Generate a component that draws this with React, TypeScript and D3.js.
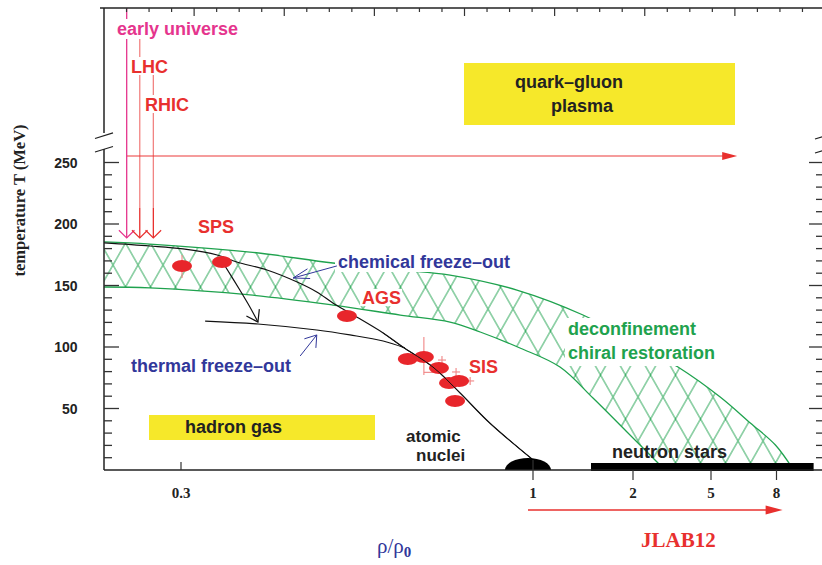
import React from 'react';
import * as d3 from 'd3';

// ---- axis definitions ----
const rhoTicks = [0.3, 1, 2, 5, 8];
const tempTicks = [50, 100, 150, 200, 250];
const tempMinor = d3.range(10, 250, 10).filter((t) => t % 50 !== 0);

// ---- cross-over band (deconfinement / chiral restoration), [rho/rho0, T MeV] ----
const bandUpper: [number, number][] = [
  [0.147, 185.4], [0.238, 183.7], [0.437, 177.2], [0.602, 168.3], [0.736, 162.6],
  [0.835, 158.5], [0.968, 146.3], [1.5, 126.0], [1.97, 105.7], [3.73, 83.7],
  [5.42, 59.3], [6.8, 38.2], [7.95, 20.3], [8.78, 0],
];
const bandLower: [number, number][] = [
  [0.147, 148.8], [0.238, 148.0], [0.437, 142.3], [0.602, 134.1], [0.736, 126.0],
  [0.835, 120.3], [0.895, 112.2], [0.974, 99.2], [1.27, 83.7], [1.6, 58.5],
  [1.94, 30.9], [3.23, 0],
];

// ---- freeze-out curves ----
const chemFreezeOut: [number, number][] = [
  [0.147, 184.6], [0.238, 182.1], [0.304, 179.7], [0.372, 174.8], [0.411, 169.1],
  [0.471, 162.6], [0.531, 152.8], [0.57, 144.7], [0.602, 135.8], [0.636, 127.6],
  [0.702, 111.4], [0.741, 100.0], [0.801, 83.7], [0.855, 62.6], [0.914, 38.2],
  [0.998, 8.9],
];
const thermFreezeOut: [number, number][] = [
  [0.348, 121.1], [0.453, 118.7], [0.57, 113.8], [0.636, 109.8], [0.702, 104.9],
  [0.745, 99.3],
];
const spsToThermal: [number, number][] = [
  [0.3875, 165.9], [0.417, 146.3], [0.437, 132.5], [0.453, 120.3],
];

// ---- measured freeze-out points ----
const spsPoints: [number, number][] = [[0.302, 165.9], [0.3815, 169.1]];
const agsPoints: [number, number][] = [[0.63, 125.2]];
const sisPoints: [number, number][] = [
  [0.751, 90.2], [0.783, 91.9], [0.813, 82.9], [0.833, 70.7], [0.853, 72.4], [0.845, 56.1],
];
// [rho, T low, T high]
const errV: [number, number, number][] = [
  [0.302, 156.1, 174.8], [0.783, 77.2, 108.1], [0.819, 86.1, 92.7],
  [0.847, 76.4, 83.0], [0.875, 69.1, 75.6],
];
// [T, rho low, rho high]
const errH: [number, number, number][] = [
  [79.4, 0.783, 0.813], [89.4, 0.811, 0.827], [79.7, 0.839, 0.855], [72.4, 0.867, 0.883],
];

// ---- accelerator / regime arrows ----
const beamArrows = [
  { name: 'early universe', rho: 0.192, tTop: 375.6, tEnd: 188.6 },
  { name: 'LHC', rho: 0.218, tTop: 351.2, tEnd: 188.6 },
  { name: 'RHIC', rho: 0.245, tTop: 321.1, tEnd: 188.6 },
];
const qgpArrow = { rho0: 0.192, rho1: 6.2, T: 255.3 };
const jlabArrow = { rho0: 0.99, rho1: 8.28 };
const nucleiRho = 0.99;
const neutronStarRange = [1.58, 9.7];

// ---- layout ----
const W = 822;
const H = 565;
const L = 104;
const R = 823;
const TOP = 8;
const B = 470;

const x = d3.scaleLinear().domain(rhoTicks).range([181, 533, 633, 711, 776.5]);
const y = d3.scaleLinear().domain([0, 250]).range([B, 162.5]);
const topAxis = d3.scaleLinear().domain([0, 8]).range([L, 825]);

const sans = "'Liberation Sans', Arial, Helvetica, sans-serif";
const serif = "'Liberation Serif', 'Times New Roman', Times, serif";

const C = {
  green: '#1fa24e',
  navy: '#31379a',
  red: '#e8302e',
  magenta: '#e5358d',
  salmon: '#f27b7b',
  dark: '#222222',
  yellow: '#f6e82a',
  dot: '#e8262b',
  axis: '#333333',
};

const px = (p: [number, number]): [number, number] => [x(p[0]), y(p[1])];
const smooth = d3.line<[number, number]>().x((d) => x(d[0])).y((d) => y(d[1])).curve(d3.curveCatmullRom.alpha(0.5));

function openHead(tip: [number, number], from: [number, number], len: number, ang: number) {
  const a = Math.atan2(tip[1] - from[1], tip[0] - from[0]);
  const p1 = [tip[0] - len * Math.cos(a - ang), tip[1] - len * Math.sin(a - ang)];
  const p2 = [tip[0] - len * Math.cos(a + ang), tip[1] - len * Math.sin(a + ang)];
  return `M${p1[0]},${p1[1]}L${tip[0]},${tip[1]}L${p2[0]},${p2[1]}`;
}
function solidHead(tip: [number, number], dirX: number, len: number, half: number) {
  return `M${tip[0]},${tip[1]}L${tip[0] - dirX * len},${tip[1] - half}L${tip[0] - dirX * len},${tip[1] + half}Z`;
}

export default function App() {
  const bandPath =
    smooth(bandUpper)! +
    'L' + px(bandLower[bandLower.length - 1]).join(',') +
    smooth(bandLower.slice().reverse())!.replace(/^M/, 'L') +
    'Z';

  const sps = px(spsToThermal[spsToThermal.length - 1]);
  const spsPrev = px(spsToThermal[spsToThermal.length - 2]);

  const chemTail: [number, number] = [x(0.61), y(165.9)];
  const chemTip: [number, number] = [x(0.523), y(156.1)];
  const thermTail: [number, number] = [x(0.537), y(92.7)];
  const thermTip: [number, number] = [x(0.57), y(109.8)];

  const labelStyle = { fontFamily: sans, fontWeight: 700, fontSize: 18 } as const;

  return (
    <svg width={W} height={H} style={{ position: 'absolute', left: 0, top: 0, background: '#fff' }}>
      <defs>
        <pattern id="xhatch" patternUnits="userSpaceOnUse" x={100.5} y={243} width={25} height={44}>
          <path
            d="M-25,-44L50,88M0,-44L50,44M-25,0L25,88M50,-44L-25,88M25,-44L-25,44M50,0L0,88"
            stroke={C.green}
            strokeWidth={1}
            fill="none"
          />
        </pattern>
        <clipPath id="plot">
          <rect x={L} y={TOP} width={R - L} height={B - TOP} />
        </clipPath>
      </defs>

      {/* labelled regions */}
      <rect x={464} y={63} width={271} height={62} fill={C.yellow} />
      <rect x={149} y={415} width={226} height={25} fill={C.yellow} />

      {/* cross-over band */}
      <g clipPath="url(#plot)">
        <path d={bandPath} fill="url(#xhatch)" stroke="none" />
        <path d={smooth(bandUpper)!} fill="none" stroke={C.green} strokeWidth={1.3} />
        <path d={smooth(bandLower)!} fill="none" stroke={C.green} strokeWidth={1.3} />
      </g>

      {/* text backgrounds over the band and arrows */}
      <rect x={565} y={318} width={156} height={48} fill="#fff" />
      <rect x={335} y={252} width={180} height={20} fill="#fff" />
      <rect x={360} y={289} width={42} height={17} fill="#fff" />

      {/* QGP arrow */}
      <line x1={x(qgpArrow.rho0)} x2={x(qgpArrow.rho1) - 12} y1={y(qgpArrow.T)} y2={y(qgpArrow.T)} stroke={C.salmon} strokeWidth={1.6} />
      <path d={solidHead([x(qgpArrow.rho1), y(qgpArrow.T)], 1, 15, 4)} fill={C.red} />

      {/* beam arrows */}
      {beamArrows.map((a, i) => {
        const cx = x(a.rho);
        const col = i === 0 ? C.magenta : C.red;
        const tip: [number, number] = [cx, y(a.tEnd)];
        return (
          <g key={a.name}>
            <line x1={cx} x2={cx} y1={y(a.tTop)} y2={y(a.tEnd) - 30} stroke={col} strokeOpacity={i === 0 ? 1 : 0.6} strokeWidth={1.3} />
            <line x1={cx} x2={cx} y1={y(a.tEnd) - 30} y2={y(a.tEnd)} stroke={col} strokeWidth={1.3} />
            <path d={openHead(tip, [cx, tip[1] - 10], 11, Math.PI / 4)} stroke={col} strokeWidth={1.2} fill="none" />
          </g>
        );
      })}
      <rect x={115} y={19} width={126} height={20} fill="#fff" />
      <rect x={130} y={57} width={40} height={18} fill="#fff" />
      <rect x={144} y={95} width={46} height={18} fill="#fff" />

      {/* freeze-out curves */}
      <path d={smooth(chemFreezeOut)!} fill="none" stroke="#111" strokeWidth={1.2} />
      <path d={smooth(thermFreezeOut)!} fill="none" stroke="#111" strokeWidth={1.2} />
      <path d={smooth(spsToThermal)!} fill="none" stroke="#111" strokeWidth={1.2} />
      <path d={openHead(sps, spsPrev, 13, 0.6)} fill="none" stroke="#111" strokeWidth={1.2} />

      {/* pointer arrows */}
      <line x1={chemTail[0]} y1={chemTail[1]} x2={chemTip[0]} y2={chemTip[1]} stroke={C.navy} strokeWidth={1} />
      <path d={openHead(chemTip, chemTail, 17, 0.3)} fill="none" stroke={C.navy} strokeWidth={1} />
      <line x1={thermTail[0]} y1={thermTail[1]} x2={thermTip[0]} y2={thermTip[1]} stroke={C.navy} strokeWidth={1} />
      <path d={openHead(thermTip, thermTail, 13, 0.6)} fill="none" stroke={C.navy} strokeWidth={1} />

      {/* data points */}
      <g stroke="#f08585" strokeWidth={1.1}>
        {errV.map((e, i) => (
          <line key={'v' + i} x1={x(e[0])} x2={x(e[0])} y1={y(e[1])} y2={y(e[2])} />
        ))}
        {errH.map((e, i) => (
          <line key={'h' + i} x1={x(e[1])} x2={x(e[2])} y1={y(e[0])} y2={y(e[0])} />
        ))}
      </g>
      {[...spsPoints, ...agsPoints, ...sisPoints].map((p, i) => (
        <ellipse key={i} cx={x(p[0])} cy={y(p[1])} rx={10} ry={6} fill={C.dot} />
      ))}
      {/* curve drawn again on top of the SIS points */}
      <path d={smooth(chemFreezeOut.slice(10))!} fill="none" stroke="#111" strokeWidth={1} />

      {/* nuclei and neutron stars */}
      <path
        d={`M${x(nucleiRho) - 23},${B}A23,12 0 0 1 ${x(nucleiRho) + 23},${B}Z`}
        fill="#000"
      />
      <rect x={x(neutronStarRange[0])} y={B - 7} width={x(neutronStarRange[1]) - x(neutronStarRange[0])} height={8} fill="#000" />

      {/* frame */}
      <g stroke="#222" strokeWidth={1.5} fill="none">
        <line x1={L - 4} x2={R} y1={TOP} y2={TOP} />
        <line x1={L} x2={R} y1={B} y2={B} />
        <line x1={L} x2={L} y1={TOP} y2={133} />
        <line x1={L} x2={L} y1={149} y2={B} />
        <line x1={R} x2={R} y1={TOP} y2={B} />
        <path d="M95,138.5L113,132.8M95,152L113,146.5" strokeWidth={1.3} />
        <path d="M815,139L823,136.5M815,153L823,150.5" strokeWidth={1.2} />
      </g>

      {/* top ticks */}
      <g stroke={C.axis} strokeWidth={1.2}>
        {d3.range(1, 32).map((k) => {
          const v = k / 4;
          const major = k % 4 === 0;
          return <line key={k} x1={topAxis(v)} x2={topAxis(v)} y1={TOP} y2={TOP + (major ? 8 : 4)} />;
        })}
      </g>

      {/* temperature ticks */}
      <g stroke={C.axis} strokeWidth={1.3}>
        {tempTicks.map((t) => (
          <g key={t}>
            <line x1={L} x2={L + 15} y1={y(t)} y2={y(t)} />
            <line x1={R - 14} x2={R} y1={y(t)} y2={y(t)} />
          </g>
        ))}
        {tempMinor.map((t) => (
          <g key={t}>
            <line x1={L} x2={L + 8} y1={y(t)} y2={y(t)} />
            <line x1={R - 7} x2={R} y1={y(t)} y2={y(t)} />
          </g>
        ))}
      </g>
      <g fontFamily={sans} fontWeight={700} fontSize={14} fill={C.dark} textAnchor="end">
        {tempTicks.map((t) => (
          <text key={t} x={77.5} y={y(t) + 5}>{t}</text>
        ))}
      </g>

      {/* density ticks */}
      <g stroke={C.axis} strokeWidth={1.2}>
        {rhoTicks.map((r) => (
          <line key={r} x1={x(r)} x2={x(r)} y1={r < 1 ? B - 8 : r === 1 ? B - 10 : B} y2={r < 1 ? B : B + 10} />
        ))}
      </g>
      <g fontFamily={serif} fontWeight={700} fontSize={15} fill={C.dark} textAnchor="middle">
        {rhoTicks.map((r) => (
          <text key={r} x={x(r)} y={498}>{r}</text>
        ))}
      </g>

      {/* axis titles */}
      <text
        transform="translate(25,200.5) rotate(-90)"
        textAnchor="middle"
        fontFamily={serif}
        fontWeight={700}
        fontSize={16.5}
        fill={C.dark}
      >
        temperature T (MeV)
      </text>
      <text x={377} y={553} fontFamily={serif} fontSize={21} fill={C.navy}>
        ρ/ρ<tspan fontWeight={700} fontSize={15} dy={4}>0</tspan>
      </text>

      {/* JLAB12 arrow */}
      <line x1={x(jlabArrow.rho0)} x2={x(jlabArrow.rho1) - 14} y1={510} y2={510} stroke={C.red} strokeWidth={1.6} />
      <path d={solidHead([x(jlabArrow.rho1), 510], 1, 17, 4.5)} fill={C.red} />
      <text x={641} y={547} fontFamily={serif} fontWeight={700} fontSize={21} fill={C.red}>JLAB12</text>

      {/* labels */}
      <g {...labelStyle}>
        <text x={117} y={35} fill={C.magenta}>early universe</text>
        <text x={131} y={73} fill={C.red}>LHC</text>
        <text x={145} y={111} fill={C.red}>RHIC</text>
        <text x={515} y={88} fill={C.dark}>quark–gluon</text>
        <text x={551} y={111.5} fill={C.dark}>plasma</text>
        <text x={198} y={233} fill={C.red}>SPS</text>
        <text x={338} y={268} fill={C.navy}>chemical freeze–out</text>
        <text x={362} y={304} fill={C.red}>AGS</text>
        <text x={568} y={335} fill={C.green}>deconfinement</text>
        <text x={568} y={359} fill={C.green}>chiral restoration</text>
        <text x={469} y={373} fill={C.red}>SIS</text>
        <text x={131} y={372} fill={C.navy}>thermal freeze–out</text>
        <text x={185} y={433} fill={C.dark}>hadron gas</text>
        <text x={406} y={442} fontSize={17} fill={C.dark}>atomic</text>
        <text x={416} y={461} fontSize={17} fill={C.dark}>nuclei</text>
        <text x={612} y={458} fill={C.dark}>neutron stars</text>
      </g>
    </svg>
  );
}
